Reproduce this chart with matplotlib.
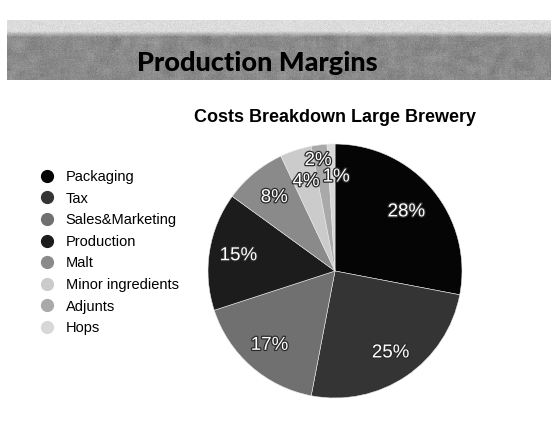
import numpy as np
import matplotlib
matplotlib.use("Agg")
import matplotlib.pyplot as plt
import matplotlib.patheffects as pe
from matplotlib.lines import Line2D
from numpy.lib.stride_tricks import sliding_window_view

categories = ["Packaging", "Tax", "Sales&Marketing", "Production", "Malt",
              "Minor ingredients", "Adjunts", "Hops"]
shares = [28, 25, 17, 15, 8, 4, 2, 1]
slice_colors = ["#050505", "#343434", "#707070", "#1c1c1c", "#8a8a8a",
                "#cbcbcb", "#a9a9a9", "#d8d8d8"]
slide_title = "Production Margins"
chart_title = "Costs Breakdown Large Brewery"

W, H = 551, 428
fig = plt.figure(figsize=(W / 100, H / 100), dpi=100)
fig.patch.set_facecolor("white")


def px_axes(x0, y0, w, h):
    """Axes placed by pixel box measured from the top-left corner."""
    return fig.add_axes([x0 / W, 1 - (y0 + h) / H, w / W, h / H])


# ---- textured header banner ----
ban = px_axes(7, 20, W - 7, 60)
ban.set_axis_off()
rng = np.random.default_rng(7)
rows, cols = 60, 544
yy = np.linspace(0, 1, rows)[:, None]
noise = rng.normal(0, 1, (rows // 3 + 2, cols // 3 + 2))
sm = sliding_window_view(np.pad(noise, 1, mode="edge"), (3, 3)).mean(axis=(2, 3))
sm = np.kron(sm, np.ones((3, 3)))[:rows, :cols]
fine = rng.normal(0, 1, (rows, cols))
edge = np.clip((yy - 0.18) / 0.1, 0, 1)
tex = (0.86 + 0.02 * fine) * (1 - edge) + (0.54 + 0.05 * sm + 0.02 * fine) * edge
ban.imshow(np.clip(tex, 0, 1), cmap="gray", vmin=0, vmax=1, aspect="auto",
           interpolation="bilinear", extent=(0, 1, 0, 1))
ban.set_xlim(0, 1)
ban.set_ylim(0, 1)
ban.text((257 - 7) / (W - 7), 1 - (63 - 20) / 60, slide_title,
         ha="center", va="center", fontsize=19.5, fontweight="black",
         family="Lato", color="black")

# ---- chart title ----
fig.text(335 / W, 1 - 117 / H, chart_title, ha="center", va="center",
         fontsize=13, fontweight="bold", family="Liberation Sans", color="black")

# ---- pie ----
R = 127
cx, cy = 335, 271
ax = px_axes(cx - R, cy - R, 2 * R, 2 * R)
wedges, _ = ax.pie(shares, colors=slice_colors, startangle=90, counterclock=False,
                   radius=1, wedgeprops=dict(edgecolor="#e8e8e8", linewidth=0.4))
ax.set_xlim(-1, 1)
ax.set_ylim(-1, 1)
ax.set_aspect("equal")
ax.set_axis_off()

label_dist = [0.73, 0.78, 0.78, 0.77, 0.75, 0.74, 0.88, 0.74]
label_nudge = [0, 0, 0, 0, 0, 0, 1.5, -2.5]  # degrees, keeps tiny slices readable
outline = [pe.withStroke(linewidth=1.8, foreground="#2a2a2a")]
for w, v, d, nud in zip(wedges, shares, label_dist, label_nudge):
    ang = np.deg2rad((w.theta1 + w.theta2) / 2 + nud)
    ax.text(d * np.cos(ang), d * np.sin(ang), f"{v}%", ha="center", va="center",
            fontsize=13.5, color="white", family="Liberation Sans",
            path_effects=outline)

# ---- legend ----
handles = [Line2D([0], [0], marker="o", linestyle="none", markersize=8.5,
                  markerfacecolor=c, markeredgecolor=c) for c in slice_colors]
leg = fig.legend(handles, categories, loc="upper left",
                 bbox_to_anchor=(41 / W, 1 - 170 / H), frameon=False,
                 prop=dict(family="Liberation Sans", size=10.5),
                 handlelength=0.8, handletextpad=0.9, labelspacing=0.52,
                 borderpad=0, borderaxespad=0)

fig.savefig("out.png", dpi=100, facecolor="white")
